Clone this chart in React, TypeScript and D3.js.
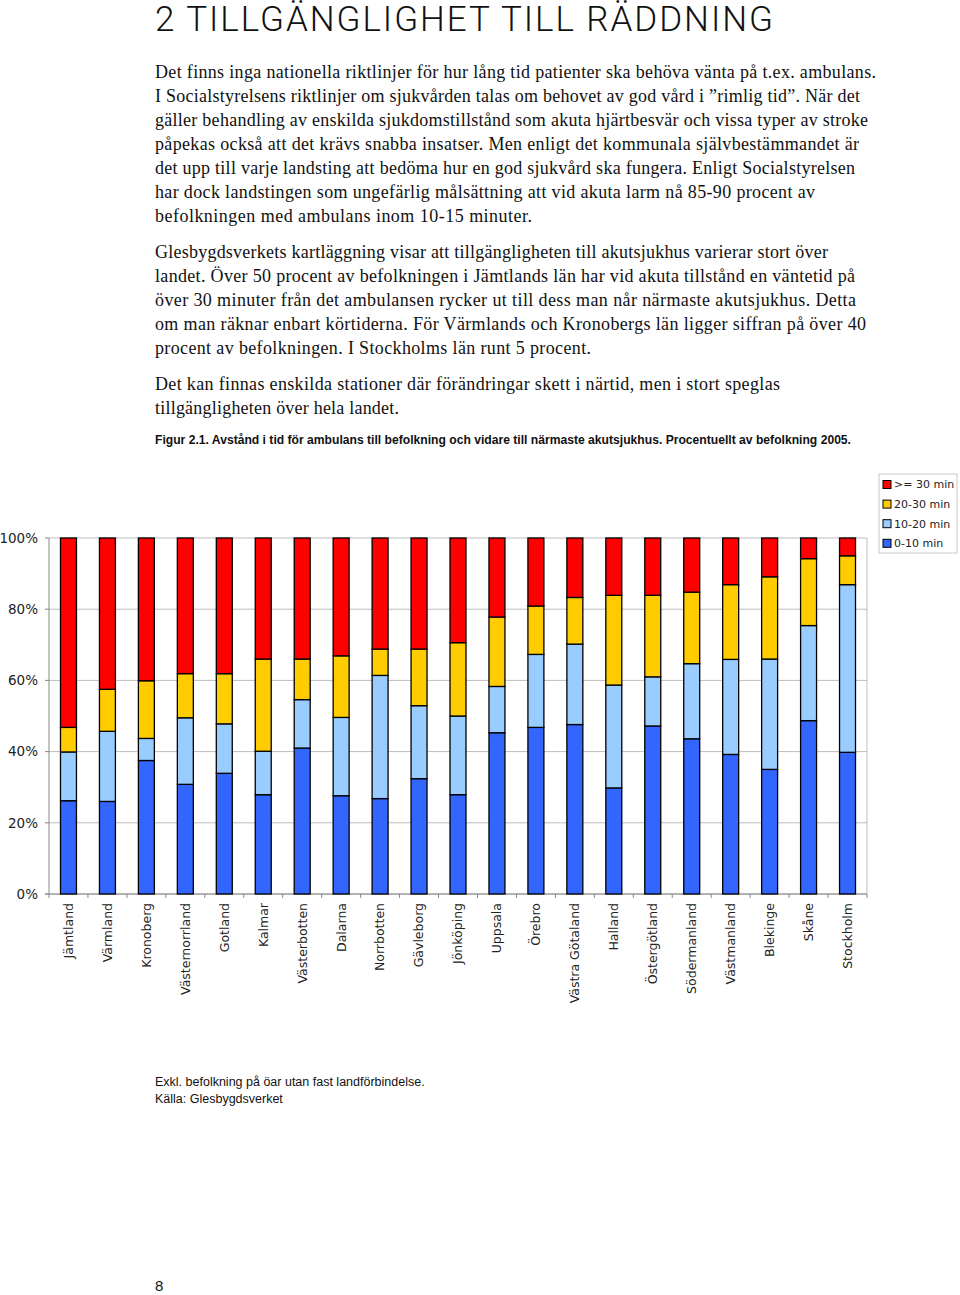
import React from "react";
import * as d3 from "d3";

// Counties (län), in chart order
const categories = [
  "Jämtland", "Värmland", "Kronoberg", "Västernorrland", "Gotland", "Kalmar",
  "Västerbotten", "Dalarna", "Norrbotten", "Gävleborg", "Jönköping", "Uppsala",
  "Örebro", "Västra Götaland", "Halland", "Östergötland", "Södermanland",
  "Västmanland", "Blekinge", "Skåne", "Stockholm",
];

// Share of population (%) by ambulance time
const min0to10 = [26.2, 26.0, 37.5, 30.8, 33.9, 27.9, 41.0, 27.6, 26.8, 32.4, 27.9, 45.3, 46.8, 47.6, 29.8, 47.2, 43.6, 39.2, 35.0, 48.7, 39.8];
const min10to20 = [13.7, 19.7, 6.2, 18.7, 13.9, 12.2, 13.6, 22.0, 34.6, 20.5, 22.1, 13.0, 20.5, 22.6, 28.9, 13.8, 21.1, 26.7, 31.0, 26.7, 47.1];
const min20to30 = [6.9, 11.8, 16.2, 12.4, 14.1, 25.9, 11.4, 17.3, 7.4, 15.9, 20.6, 19.5, 13.6, 13.1, 25.2, 22.9, 20.1, 21.0, 23.1, 18.8, 8.1];
const min30plus = [53.2, 42.5, 40.1, 38.1, 38.1, 34.0, 34.0, 33.1, 31.2, 31.2, 29.4, 22.2, 19.1, 16.7, 16.1, 16.1, 15.2, 13.1, 10.9, 5.8, 5.0];

const seriesKeys = ["a", "b", "c", "d"];
const seriesLabels = ["0-10 min", "10-20 min", "20-30 min", ">= 30 min"];
const seriesColors = ["#3366FF", "#99CCFF", "#FFCC00", "#FF0000"];
const yTicks = [0, 20, 40, 60, 80, 100];

// page text, one entry per printed line
const para1 = [
  "Det finns inga nationella riktlinjer för hur lång tid patienter ska behöva vänta på t.ex. ambulans.",
  "I Socialstyrelsens riktlinjer om sjukvården talas om behovet av god vård i ”rimlig tid”. När det",
  "gäller behandling av enskilda sjukdomstillstånd som akuta hjärtbesvär och vissa typer av stroke",
  "påpekas också att det krävs snabba insatser. Men enligt det kommunala självbestämmandet är",
  "det upp till varje landsting att bedöma hur en god sjukvård ska fungera. Enligt Socialstyrelsen",
  "har dock landstingen som ungefärlig målsättning att vid akuta larm nå 85-90 procent av",
  "befolkningen med ambulans inom 10-15 minuter.",
];
const para1W = [721, 705, 713, 704, 700, 660, 377];
const para2 = [
  "Glesbygdsverkets kartläggning visar att tillgängligheten till akutsjukhus varierar stort över",
  "landet. Över 50 procent av befolkningen i Jämtlands län har vid akuta tillstånd en väntetid på",
  "över 30 minuter från det ambulansen rycker ut till dess man når närmaste akutsjukhus. Detta",
  "om man räknar enbart körtiderna. För Värmlands och Kronobergs län ligger siffran på över 40",
  "procent av befolkningen. I Stockholms län runt 5 procent.",
];
const para2W = [673, 700, 701, 711, 436];
const para3 = [
  "Det kan finnas enskilda stationer där förändringar skett i närtid, men i stort speglas",
  "tillgängligheten över hela landet.",
];
const para3W = [625, 244];

export default function App() {
  const W = 960;
  const H = 1295;
  const plot = { left: 49, right: 867, top: 538, bottom: 894 };

  const rows = categories.map((c, i) => ({
    cat: c,
    a: min0to10[i],
    b: min10to20[i],
    c: min20to30[i],
    d: min30plus[i],
  }));
  const stacked = d3.stack<any>().keys(seriesKeys)(rows);

  const x = d3
    .scaleBand()
    .domain(categories)
    .range([plot.left, plot.right])
    .paddingInner(0.59)
    .paddingOuter(0.295);
  const y = d3.scaleLinear().domain([0, 100]).range([plot.bottom, plot.top]);
  const step = x.step();

  const serif = "'Liberation Serif', 'Times New Roman', serif";
  const sans = "'DejaVu Sans', Verdana, sans-serif";

  const textLines = (lines: string[], widths: number[], y0: number) =>
    lines.map((t, i) => (
      <text
        key={t}
        x={155}
        y={y0 + i * 24}
        fontFamily={serif}
        fontSize={18}
        textLength={widths[i]}
        lengthAdjust="spacing"
        fill="#111"
      >
        {t}
      </text>
    ));

  return (
    <svg
      width={W}
      height={H}
      style={{ position: "absolute", left: 0, top: 0, background: "#fff" }}
    >
      <text
        x={155}
        y={31}
        fontFamily="Roboto, 'Liberation Sans', Arial, sans-serif"
        fontSize={35}
        fontWeight={300}
        textLength={618}
        lengthAdjust="spacing"
        fill="#111"
      >
        2 TILLGÄNGLIGHET TILL RÄDDNING
      </text>

      {textLines(para1, para1W, 78)}
      {textLines(para2, para2W, 258)}
      {textLines(para3, para3W, 390)}

      <text
        x={155}
        y={444}
        fontFamily="'Liberation Sans Narrow', 'Liberation Sans', Arial, sans-serif"
        fontSize={12.5}
        fontWeight="bold"
        textLength={696}
        lengthAdjust="spacingAndGlyphs"
        fill="#111"
      >
        Figur 2.1. Avstånd i tid för ambulans till befolkning och vidare till närmaste akutsjukhus. Procentuellt av befolkning 2005.
      </text>

      {/* gridlines */}
      {yTicks.map((t) => (
        <line
          key={"g" + t}
          x1={plot.left}
          x2={plot.right}
          y1={y(t)}
          y2={y(t)}
          stroke="#BDBDBD"
          strokeWidth={1}
        />
      ))}
      <line x1={plot.right} x2={plot.right} y1={plot.top} y2={plot.bottom} stroke="#BDBDBD" />
      <line x1={plot.left} x2={plot.left} y1={plot.top} y2={plot.bottom + 4} stroke="#888" />
      <line x1={plot.left - 4} x2={plot.right} y1={plot.bottom} y2={plot.bottom} stroke="#888" />

      {/* y axis */}
      {yTicks.map((t) => (
        <g key={"y" + t}>
          <line x1={plot.left - 4} x2={plot.left} y1={y(t)} y2={y(t)} stroke="#888" />
          <text
            x={38}
            y={y(t)}
            dy="0.35em"
            textAnchor="end"
            fontFamily={sans}
            fontSize={13.5}
            fill="#222"
          >
            {t}%
          </text>
        </g>
      ))}

      {/* category ticks */}
      {categories.map((c, i) => (
        <line
          key={"t" + c}
          x1={plot.left + step * (i + 1)}
          x2={plot.left + step * (i + 1)}
          y1={plot.bottom}
          y2={plot.bottom + 4}
          stroke="#888"
        />
      ))}

      {/* bars */}
      {stacked.map((s, si) => (
        <g key={s.key} fill={seriesColors[si]} stroke="#000" strokeWidth={1.3}>
          {s.map((d: any) => (
            <rect
              key={d.data.cat}
              x={x(d.data.cat)}
              y={y(d[1])}
              width={x.bandwidth()}
              height={y(d[0]) - y(d[1])}
            />
          ))}
        </g>
      ))}

      {/* category labels */}
      {categories.map((c) => {
        const cx = (x(c) as number) + x.bandwidth() / 2;
        return (
          <text
            key={"l" + c}
            transform={`translate(${cx},903) rotate(-90)`}
            dy="0.35em"
            textAnchor="end"
            fontFamily={sans}
            fontSize={12.5}
            fill="#222"
          >
            {c}
          </text>
        );
      })}

      {/* legend */}
      <rect x={879} y={474} width={78} height={79} fill="#fff" stroke="#C8C8C8" />
      {[3, 2, 1, 0].map((si, k) => (
        <g key={"lg" + si} transform={`translate(883,${484.5 + k * 19.6})`}>
          <rect x={0} y={-4} width={8} height={8} fill={seriesColors[si]} stroke="#000" />
          <text x={11} y={0} dy="0.35em" fontFamily={sans} fontSize={11} fill="#222">
            {seriesLabels[si]}
          </text>
        </g>
      ))}

      <text x={155} y={1086} fontFamily="'Liberation Sans', Arial, sans-serif" fontSize={12.5} fill="#111">
        Exkl. befolkning på öar utan fast landförbindelse.
      </text>
      <text x={155} y={1103} fontFamily="'Liberation Sans', Arial, sans-serif" fontSize={12.5} fill="#111">
        Källa: Glesbygdsverket
      </text>
      <text x={155} y={1291} fontFamily="'Liberation Sans', Arial, sans-serif" fontSize={15} fill="#111">
        8
      </text>
    </svg>
  );
}
